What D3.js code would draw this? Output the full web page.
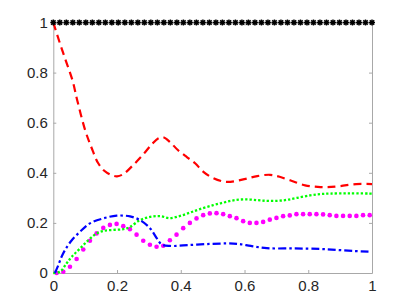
<!DOCTYPE html>
<html>
<head>
<meta charset="utf-8">
<script src="https://cdn.jsdelivr.net/npm/d3@7"></script>
<style>
  body { margin: 0; background: #fff; }
  svg { display: block; }
</style>
</head>
<body>
<div id="chart"></div>
<script>
// tick values
var xTicks = [0, 0.2, 0.4, 0.6, 0.8, 1];
var yTicks = [0, 0.2, 0.4, 0.6, 0.8, 1];

// black asterisks, flat at 1 (50 samples over [0,1])
var starX = d3.range(50).map(function(i) { return i / 49; });
var starY = starX.map(function() { return 1; });

// red dashed
var redX = [0, 0.02, 0.04, 0.06, 0.075, 0.1, 0.12, 0.14, 0.16, 0.18, 0.2, 0.22, 0.25, 0.28, 0.31, 0.33, 0.345, 0.366, 0.39, 0.42, 0.445, 0.47, 0.5, 0.54, 0.576, 0.61, 0.64, 0.68, 0.71, 0.743, 0.79, 0.83, 0.86, 0.9, 0.95, 1.0];
var redY = [1.0, 0.92, 0.845, 0.77, 0.69, 0.57, 0.5, 0.44, 0.408, 0.392, 0.386, 0.395, 0.43, 0.47, 0.515, 0.538, 0.542, 0.523, 0.492, 0.462, 0.438, 0.405, 0.38, 0.364, 0.368, 0.378, 0.387, 0.392, 0.384, 0.37, 0.35, 0.344, 0.343, 0.347, 0.355, 0.355];

// green dotted
var greenX = [0, 0.021, 0.042, 0.058, 0.084, 0.11, 0.136, 0.157, 0.188, 0.22, 0.241, 0.272, 0.304, 0.335, 0.366, 0.398, 0.429, 0.46, 0.502, 0.534, 0.565, 0.6, 0.639, 0.67, 0.702, 0.733, 0.765, 0.806, 0.837, 0.868, 0.93, 1.0];
var greenY = [0, 0.005, 0.039, 0.065, 0.098, 0.131, 0.158, 0.168, 0.172, 0.175, 0.184, 0.211, 0.224, 0.227, 0.219, 0.228, 0.241, 0.255, 0.271, 0.281, 0.29, 0.294, 0.291, 0.288, 0.288, 0.292, 0.3, 0.31, 0.315, 0.317, 0.318, 0.317];

// blue dash-dot
var blueX = [0.005, 0.016, 0.026, 0.037, 0.058, 0.084, 0.115, 0.157, 0.199, 0.241, 0.272, 0.304, 0.325, 0.34, 0.366, 0.429, 0.492, 0.545, 0.58, 0.62, 0.67, 0.754, 0.837, 0.89, 0.942, 0.989];
var blueY = [0, 0.032, 0.065, 0.092, 0.131, 0.165, 0.198, 0.218, 0.229, 0.226, 0.211, 0.178, 0.138, 0.114, 0.108, 0.112, 0.116, 0.118, 0.116, 0.108, 0.099, 0.098, 0.096, 0.092, 0.088, 0.085];

// magenta dots (48 samples)
var magX = d3.range(48).map(function(i) { return 0.0105 + i * 0.0209; });
var magY = [0.0, 0.005, 0.025, 0.056, 0.094, 0.129, 0.158, 0.18, 0.192, 0.196, 0.187, 0.175, 0.153, 0.129, 0.113, 0.105, 0.109, 0.131, 0.153, 0.179, 0.2, 0.218, 0.231, 0.238, 0.239, 0.235, 0.227, 0.219, 0.207, 0.2, 0.2, 0.204, 0.213, 0.22, 0.227, 0.23, 0.235, 0.235, 0.235, 0.235, 0.234, 0.231, 0.228, 0.228, 0.228, 0.228, 0.231, 0.231];

var margin = {top: 22.5, right: 39, bottom: 35, left: 53.3},
    width = 411 - margin.left - margin.right,
    height = 308 - margin.top - margin.bottom;

var svg = d3.select("#chart")
  .append("svg")
    .attr("width", 411)
    .attr("height", 308)
  .append("g")
    .attr("transform", "translate(" + margin.left + "," + margin.top + ")");

var x = d3.scaleLinear().domain([0, 1]).range([0, width]);
var y = d3.scaleLinear().domain([0, 1]).range([height, 0]);

var axisColor = "#a8a8a8";
var labelColor = "#262626";

function styleAxis(g) {
  g.select(".domain").attr("stroke", axisColor);
  g.selectAll(".tick line").attr("stroke", axisColor);
  g.selectAll(".tick text")
    .attr("fill", labelColor)
    .style("font-family", "'Liberation Sans', Arial, sans-serif")
    .style("font-size", "15px");
}

// bottom + left axes, ticks pointing in
svg.append("g")
  .attr("transform", "translate(0," + height + ")")
  .call(d3.axisBottom(x).tickValues(xTicks).tickFormat(d3.format("~g")).tickSizeInner(-3).tickSizeOuter(0).tickPadding(7.5))
  .call(styleAxis);

svg.append("g")
  .call(d3.axisLeft(y).tickValues(yTicks).tickFormat(d3.format("~g")).tickSizeInner(-3).tickSizeOuter(0).tickPadding(5.5))
  .call(styleAxis);

// top + right box lines
svg.append("g")
  .call(d3.axisTop(x).tickValues(xTicks).tickFormat("").tickSizeInner(-3).tickSizeOuter(0))
  .call(styleAxis);
svg.append("g")
  .attr("transform", "translate(" + width + ",0)")
  .call(d3.axisRight(y).tickValues(yTicks).tickFormat("").tickSizeInner(-3).tickSizeOuter(0))
  .call(styleAxis);

var line = d3.line()
  .x(function(d) { return x(d[0]); })
  .y(function(d) { return y(d[1]); })
  .curve(d3.curveCatmullRom.alpha(0.5));

function zip(a, b) { return a.map(function(v, i) { return [v, b[i]]; }); }

// red dashed
svg.append("path")
  .datum(zip(redX, redY))
  .attr("d", line)
  .attr("fill", "none")
  .attr("stroke", "#ff0000")
  .attr("stroke-width", 2.2)
  .attr("stroke-dasharray", "8,5");

// magenta dots
svg.selectAll("circle.mag")
  .data(zip(magX, magY))
  .enter()
  .append("circle")
    .attr("class", "mag")
    .attr("cx", function(d) { return x(d[0]); })
    .attr("cy", function(d) { return y(d[1]); })
    .attr("r", 2.3)
    .attr("fill", "#ff00ff");

// green dotted
svg.append("path")
  .datum(zip(greenX, greenY))
  .attr("d", line)
  .attr("fill", "none")
  .attr("stroke", "#00ff00")
  .attr("stroke-width", 2.3)
  .attr("stroke-dasharray", "2.3,2");

// blue dash-dot
svg.append("path")
  .datum(zip(blueX, blueY))
  .attr("d", line)
  .attr("fill", "none")
  .attr("stroke", "#0000ff")
  .attr("stroke-width", 2.2)
  .attr("stroke-dasharray", "8,3,2.5,3");

// black asterisks along y = 1
var star = "M-3,0L3,0M0,-3L0,3M-2.2,-2.2L2.2,2.2M-2.2,2.2L2.2,-2.2";
svg.selectAll("path.star")
  .data(zip(starX, starY))
  .enter()
  .append("path")
    .attr("class", "star")
    .attr("transform", function(d) { return "translate(" + x(d[0]) + "," + y(d[1]) + ")"; })
    .attr("d", star)
    .attr("fill", "none")
    .attr("stroke", "#000")
    .attr("stroke-width", 1.5);
</script>
</body>
</html>
